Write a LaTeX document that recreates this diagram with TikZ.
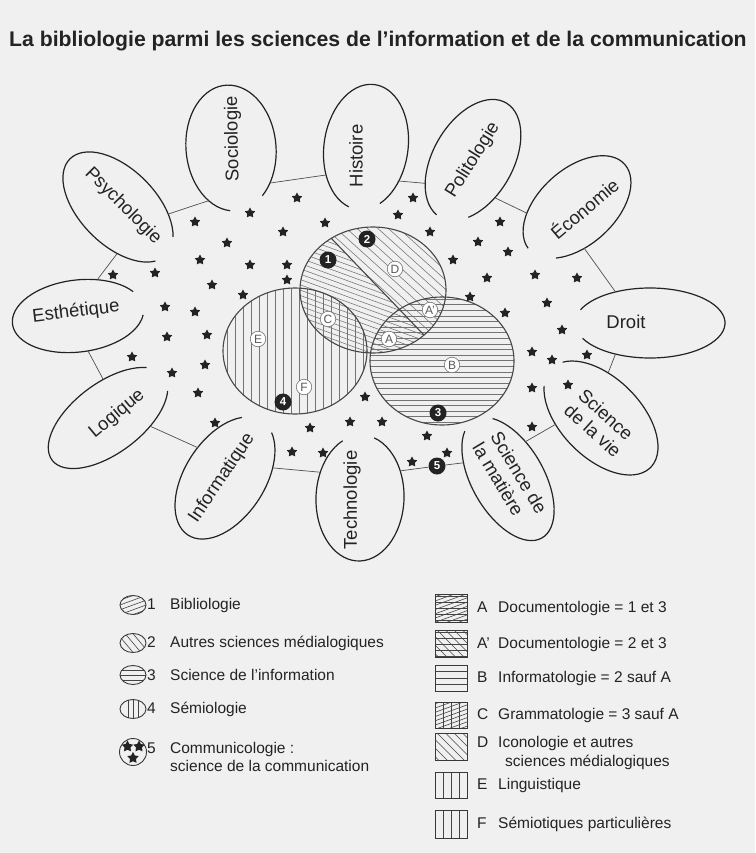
\documentclass[tikz,border=0pt]{standalone}
\usepackage{fontspec}
\setmainfont{Liberation Sans}
\usetikzlibrary{shapes.geometric}

\definecolor{paper}{RGB}{240,240,241}
\definecolor{ink}{RGB}{35,35,35}
\definecolor{rimgray}{RGB}{70,70,70}
\definecolor{hatchgray}{RGB}{115,115,115}

\tikzset{
  petal/.style={ellipse, draw=none, inner sep=0pt, outer sep=0pt},
  petalline/.style={ink, line width=1.2pt},
  lbl/.style={text=ink, font=\fontsize{18.5}{21}\selectfont, align=left, inner sep=0pt},
  ring/.style={ink!80, line width=0.7pt},
  rim/.style={draw=rimgray, line width=1.1pt},
  hatch/.style={hatchgray, line width=0.55pt},
  leghatch/.style={ink!85, line width=0.6pt},
  legline/.style={draw=ink!90, line width=0.9pt},
  starnode/.style={star, star points=5, star point ratio=1.9, fill=ink, draw=none,
    minimum size=11pt, inner sep=0pt},
  badge/.style={circle, fill=ink, text=white, font=\bfseries\fontsize{11.5}{12}\selectfont,
    inner sep=0pt, minimum size=17pt},
  tag/.style={circle, draw=hatchgray, fill=white, text=ink!75, font=\fontsize{12}{12}\selectfont,
    inner sep=0pt, minimum size=15.5pt, line width=0.6pt},
  legtxt/.style={text=ink, font=\fontsize{15.5}{18.5}\selectfont, anchor=west, inner sep=0pt, align=left},
}

% open outline of a petal: name, angle, x radius, y radius, end, start
\newcommand{\petalarc}[6]{%
  \draw[petalline, shift={(#1.center)}, rotate=#2]
    (#6:#3 and #4) arc[start angle=#6, end angle=#5, x radius=#3, y radius=#4];}

\begin{document}
\begin{tikzpicture}[x=1pt, y=1pt]
	\fill[paper] (0,0) rectangle (755,-853);
	\useasboundingbox (0,0) rectangle (755,-853);

	\node[anchor=base west, inner sep=0pt, text=ink, font=\bfseries\fontsize{21.2}{24}\selectfont] (title)
		at (9,-47) {La bibliologie parmi les sciences de l'information et de la communication};

	% hatching of the three circles
	\begin{scope}
		\clip (295,-351) ellipse [x radius=72, y radius=63];
		\foreach \i in {0,...,18} \draw[hatch] (227+\i*8,-280) -- ++(0,-140);
	\end{scope}
	\begin{scope}
		\clip (442,-361) ellipse [x radius=72, y radius=64];
		\foreach \i in {0,...,23} \draw[hatch] (365,-299-\i*5.6) -- ++(160,0);
	\end{scope}
	\begin{scope}
		\clip (373,-290) ellipse [x radius=73, y radius=63];
		\clip (241,-144) -- (514,-429) -- (200,-429) -- (200,-144) -- cycle;
		\foreach \i in {-16,...,16} \draw[hatch, rotate around={-20:(373,-290)}] (273,-290+\i*5) -- ++(200,0);
	\end{scope}
	\begin{scope}
		\clip (373,-290) ellipse [x radius=73, y radius=63];
		\clip (241,-144) -- (514,-429) -- (560,-429) -- (560,-144) -- cycle;
		\foreach \i in {-12,...,12} \draw[hatch, rotate around={-42:(373,-290)}] (273,-290+\i*7) -- ++(200,0);
	\end{scope}
	\begin{scope}
		\clip (373,-290) ellipse [x radius=73, y radius=63];
		\draw[rim] (241,-144) -- (514,-429);
	\end{scope}
	\draw[rim] (373,-290) ellipse [x radius=73, y radius=63];
	\draw[rim] (295,-351) ellipse [x radius=72, y radius=63];
	\draw[rim] (442,-361) ellipse [x radius=72, y radius=64];

	% petals
	\node[petal, rotate=7, minimum width=132, minimum height=72] (esth) at (78,-316) {};
	\node[lbl, rotate=7] (esth-t) at (76,-312) {Esthétique};
	\petalarc{esth}{7}{66}{36}{349}{29}
	\node[petal, rotate=-45, minimum width=136, minimum height=76] (psy) at (118,-207) {};
	\node[lbl, rotate=-45] (psy-t) at (123,-206) {Psychologie};
	\petalarc{psy}{-45}{68}{38}{342}{28}
	\node[petal, rotate=95, minimum width=126, minimum height=90] (soc) at (231,-148) {};
	\node[lbl, rotate=91] (soc-t) at (233,-139) {Sociologie};
	\petalarc{soc}{95}{63}{45}{532}{217}
	\node[petal, rotate=82, minimum width=126, minimum height=84] (hist) at (366,-147) {};
	\node[lbl, rotate=90] (hist-t) at (356,-156) {Histoire};
	\petalarc{hist}{82}{63}{42}{528}{211}
	\node[petal, rotate=60, minimum width=132, minimum height=80] (pol) at (473,-160) {};
	\node[lbl, rotate=58] (pol-t) at (473,-160) {Politologie};
	\petalarc{pol}{60}{66}{40}{534}{218}
	\node[petal, rotate=42, minimum width=128, minimum height=76] (eco) at (577,-207) {};
	\node[lbl, rotate=40] (eco-t) at (584,-208) {Économie};
	\petalarc{eco}{42}{64}{38}{537}{219}
	\node[petal, minimum width=150, minimum height=70] (droit) at (650,-323) {};
	\node[lbl] (droit-t) at (626,-322) {Droit};
	\petalarc{droit}{0}{75}{35}{518}{206}
	\node[petal, rotate=-45, minimum width=140, minimum height=80] (vie) at (601,-418) {};
	\node[lbl, rotate=-42] (vie-t) at (600,-423) {Science\\de la vie};
	\petalarc{vie}{-45}{70}{40}{522}{206}
	\node[petal, rotate=-60, minimum width=136, minimum height=72] (mat) at (508,-479) {};
	\node[lbl, rotate=-59] (mat-t) at (510,-478) {Science de\\la matière};
	\petalarc{mat}{-60}{68}{36}{512}{202}
	\node[petal, rotate=88, minimum width=126, minimum height=88] (tech) at (360,-498) {};
	\node[lbl, rotate=90] (tech-t) at (352,-500) {Technologie};
	\petalarc{tech}{88}{63}{44}{344}{26}
	\node[petal, rotate=57, minimum width=136, minimum height=80] (info) at (225,-478) {};
	\node[lbl, rotate=56] (info-t) at (222,-478) {Informatique};
	\petalarc{info}{57}{68}{40}{339}{28}
	\node[petal, rotate=37, minimum width=140, minimum height=70] (log) at (108,-418) {};
	\node[lbl, rotate=40] (log-t) at (117,-414) {Logique};
	\petalarc{log}{37}{70}{35}{336}{29}

	% stars
	\foreach \x/\y [count=\n] in {297/198, 250/213, 325/223, 195/222, 283/232, 227/243, 200/260,
		250/265, 287/265, 287/280, 155/273, 113/275, 212/285, 243/295, 165/307, 195/312, 167/337,
		207/335, 132/357, 172/373, 205/365, 198/393, 215/423, 310/428, 292/452, 323/453, 350/422,
		382/422, 365/397, 427/436, 447/453, 412/462, 413/198, 398/215, 430/232, 500/222, 478/242,
		508/252, 453/260, 487/278, 535/275, 577/278, 470/297, 547/303, 505/313, 562/330, 532/352,
		552/360, 587/355, 532/388, 568/385, 532/427}
		\node[starnode] (s\n) at (\x,-\y) {};

	% letters and numbers
	\node[tag] (tD) at (395,-269) {D};
	\node[tag] (tA2) at (430,-310) {A'};
	\node[tag] (tC) at (328,-319) {C};
	\node[tag] (tA) at (389,-339) {A};
	\node[tag] (tE) at (258,-339) {E};
	\node[tag] (tF) at (304,-387) {F};
	\node[tag] (tB) at (452,-365) {B};
	\node[badge] (n1) at (328,-260) {1};
	\node[badge] (n2) at (367,-239) {2};
	\node[badge] (n3) at (438,-413) {3};
	\node[badge] (n4) at (283,-402) {4};
	\node[badge] (n5) at (437,-466) {5};

	% ring of connectors
	\draw[ring] (esth.55) -- (psy.-46);
	\draw[ring] (psy.37) -- (soc.152);
	\draw[ring] (soc.223) -- (hist.133);
	\draw[ring] (hist.232) -- (pol.146);
	\draw[ring] (pol.240) -- (eco.145);
	\draw[ring] (eco.238) -- (droit.138);
	\draw[ring] (droit.222) -- (vie.126);
	\draw[ring] (vie.233) -- (mat.125);
	\draw[ring] (mat.220) -- (n5) -- (tech.-54);
	\draw[ring] (tech.59) -- (info.-45);
	\draw[ring] (info.75) -- (log.-48);
	\draw[ring] (log.60) -- (esth.-81);

	% legend, left column
	\begin{scope}
		\clip (133,-605) ellipse [x radius=13, y radius=9.5];
		\foreach \i in {-3,...,3} \draw[leghatch, rotate around={20:(133,-605)}] (110,-605+\i*4.5) -- ++(46,0);
	\end{scope}
	\draw[legline] (133,-605) ellipse [x radius=13, y radius=9.5];
	\begin{scope}
		\clip (133,-643) ellipse [x radius=13, y radius=9.5];
		\foreach \i in {-3,...,3} \draw[leghatch, rotate around={-50:(133,-643)}] (110,-643+\i*6) -- ++(46,0);
	\end{scope}
	\draw[legline] (133,-643) ellipse [x radius=13, y radius=9.5];
	\begin{scope}
		\clip (133,-675) ellipse [x radius=13, y radius=9.5];
		\foreach \i in {-1,0,1} \draw[leghatch] (118,-675+\i*5) -- ++(30,0);
	\end{scope}
	\draw[legline] (133,-675) ellipse [x radius=13, y radius=9.5];
	\begin{scope}
		\clip (133,-709) ellipse [x radius=13, y radius=9.5];
		\foreach \i in {-1,0,1} \draw[leghatch] (133+\i*5,-697) -- ++(0,-24);
	\end{scope}
	\draw[legline] (133,-709) ellipse [x radius=13, y radius=9.5];
	\draw[legline] (133,-752) circle (13.5);
	\node[starnode, minimum size=12pt] (k1) at (127.5,-746.5) {};
	\node[starnode, minimum size=12pt] (k2) at (139,-746.5) {};
	\node[starnode, minimum size=12pt] (k3) at (133,-758) {};

	\node[legtxt] (l1) at (147,-605) {\makebox[23pt][l]{1}Bibliologie};
	\node[legtxt] (l2) at (147,-643) {\makebox[23pt][l]{2}Autres sciences médialogiques};
	\node[legtxt] (l3) at (147,-675) {\makebox[23pt][l]{3}Science de l'information};
	\node[legtxt] (l4) at (147,-709) {\makebox[23pt][l]{4}Sémiologie};
	\node[legtxt] (l5) at (147,-757) {\makebox[23pt][l]{5}Communicologie :\\\hspace*{23pt}science de la communication};

	% legend, right column
	\begin{scope}
		\clip (435,-594) rectangle (467,-622);
		\foreach \i in {-5,...,5} \draw[leghatch, rotate around={20:(451,-608)}] (420,-608+\i*4) -- ++(62,0);
		\foreach \i in {-2,...,2} \draw[leghatch] (435,-608+\i*6) -- ++(32,0);
	\end{scope}
	\draw[legline] (435,-594) rectangle (467,-622);
	\begin{scope}
		\clip (435,-630) rectangle (467,-657);
		\foreach \i in {-4,...,4} \draw[leghatch, rotate around={-45:(451,-644)}] (420,-644+\i*6) -- ++(62,0);
		\foreach \i in {-2,...,2} \draw[leghatch] (435,-644+\i*6) -- ++(32,0);
	\end{scope}
	\draw[legline] (435,-630) rectangle (467,-657);
	\begin{scope}
		\clip (435,-665) rectangle (467,-691);
		\foreach \i in {-1,0,1} \draw[leghatch] (435,-678+\i*6.5) -- ++(32,0);
	\end{scope}
	\draw[legline] (435,-665) rectangle (467,-691);
	\begin{scope}
		\clip (435,-702) rectangle (467,-728);
		\foreach \i in {-5,...,5} \draw[leghatch, rotate around={20:(451,-715)}] (420,-715+\i*4) -- ++(62,0);
		\foreach \i in {-1,0,1} \draw[leghatch] (451+\i*8,-702) -- ++(0,-26);
	\end{scope}
	\draw[legline] (435,-702) rectangle (467,-728);
	\begin{scope}
		\clip (435,-733) rectangle (467,-760);
		\foreach \i in {-4,...,4} \draw[leghatch, rotate around={-45:(451,-747)}] (420,-747+\i*6) -- ++(62,0);
	\end{scope}
	\draw[legline] (435,-733) rectangle (467,-760);
	\begin{scope}
		\clip (435,-772) rectangle (467,-798);
		\foreach \i in {-1,0,1} \draw[leghatch] (451+\i*8,-772) -- ++(0,-26);
	\end{scope}
	\draw[legline] (435,-772) rectangle (467,-798);
	\begin{scope}
		\clip (435,-810) rectangle (467,-838);
		\foreach \i in {-1,0,1} \draw[leghatch] (451+\i*8,-810) -- ++(0,-28);
	\end{scope}
	\draw[legline] (435,-810) rectangle (467,-838);

	\node[legtxt] (rA) at (477,-608) {\makebox[21pt][l]{A}Documentologie = 1 et 3};
	\node[legtxt] (rA2) at (477,-644) {\makebox[21pt][l]{A'}Documentologie = 2 et 3};
	\node[legtxt] (rB) at (477,-678) {\makebox[21pt][l]{B}Informatologie = 2 sauf A};
	\node[legtxt] (rC) at (477,-715) {\makebox[21pt][l]{C}Grammatologie = 3 sauf A};
	\node[legtxt] (rD) at (477,-753) {\makebox[21pt][l]{D}Iconologie et autres\\\hspace*{28pt}sciences médialogiques};
	\node[legtxt] (rE) at (477,-785) {\makebox[21pt][l]{E}Linguistique};
	\node[legtxt] (rF) at (477,-824) {\makebox[21pt][l]{F}Sémiotiques particulières};
\end{tikzpicture}
\end{document}
